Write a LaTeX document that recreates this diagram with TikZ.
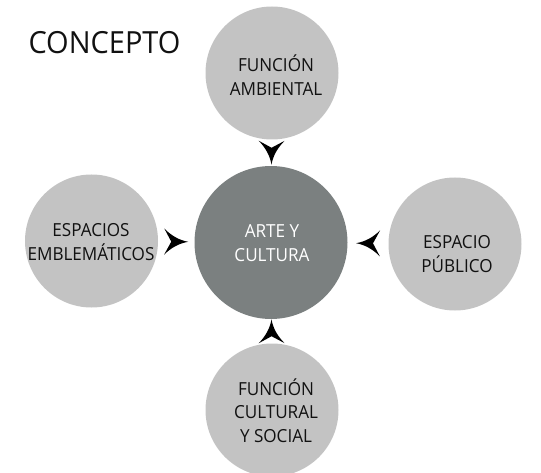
\documentclass[tikz,border=0pt]{standalone}
\usepackage{fontspec}
\setmainfont[FakeStretch=0.95]{Open Sans}
\usetikzlibrary{calc}
\definecolor{lightc}{HTML}{C3C3C3}
\definecolor{darkc}{HTML}{7B8080}
\definecolor{inkc}{HTML}{111111}
\tikzset{
  circ/.style={circle, fill=lightc, minimum size=133pt, inner sep=0pt},
  hub/.style={circle, fill=darkc, minimum size=153pt, inner sep=0pt},
  txt/.style={text=inkc, font=\fontsize{18}{23.5}\selectfont, align=center, inner sep=0pt},
  hubtxt/.style={txt, text=white},
  titletxt/.style={text=inkc, font=\fontsize{30.5}{36}\selectfont, inner sep=0pt},
  concarrow/.pic={\fill[black] (12,0) .. controls (3,1.5) and (-5,6) .. (-12,13)
      .. controls (-8,6) .. (-5,0) .. controls (-8,-6) .. (-12,-13)
      .. controls (-5,-6) and (3,-1.5) .. (12,0) -- cycle;}
}
\begin{document}
\begin{tikzpicture}[x=1pt,y=1pt]
\useasboundingbox (0,0) rectangle (541,472);
\node[hub]  (hub) at (271,229.5) {};
\node[circ] (top) at (272,399) {};
\node[circ] (bot) at (272,62) {};
\node[circ] (lft) at (91.5,231) {};
\node[circ] (rgt) at (455,228) {};
\node[hubtxt] (thub) at (272,229) {ARTE Y\\CULTURA};
\node[txt] (ttop) at (276,397) {FUNCIÓN\\AMBIENTAL};
\node[txt] (tbot) at (276,61.5) {FUNCIÓN\\CULTURAL\\Y SOCIAL};
\node[txt] (tlft) at (91,230) {ESPACIOS\\EMBLEMÁTICOS};
\node[txt] (trgt) at (457,218) {ESPACIO\\PÚBLICO};
\node[titletxt] (title) at (104.5,429.5) {CONCEPTO};
\path (top) -- (hub) pic[pos=0.5, sloped, allow upside down] {concarrow};
\path (bot) -- (hub) pic[pos=0.5, sloped, allow upside down] {concarrow};
\path (lft) -- (hub) pic[pos=0.5, sloped, allow upside down] {concarrow};
\path (rgt) -- (hub) pic[pos=0.5, sloped, allow upside down] {concarrow};
\end{tikzpicture}
\end{document}
